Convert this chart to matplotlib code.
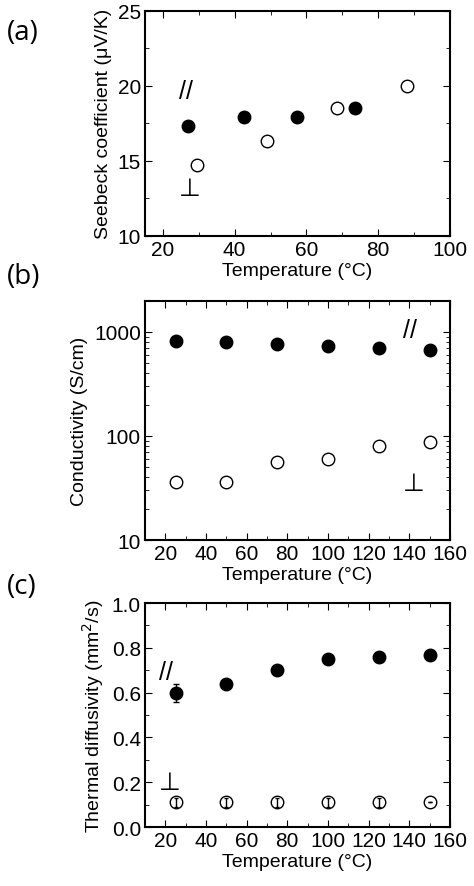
import matplotlib
matplotlib.use("Agg")
import matplotlib.pyplot as plt
import numpy as np
from matplotlib.ticker import MultipleLocator, LogLocator, NullFormatter

plt.rcParams['font.family'] = ['Liberation Sans', 'DejaVu Sans']
plt.rcParams['font.size'] = 14

a_Tf = [27, 42.5, 57.5, 73.5]; a_Sf = [17.3, 17.9, 17.9, 18.5]
a_To = [29.5, 49, 68.5, 88]; a_So = [14.7, 16.3, 18.5, 20.0]
T = [25, 50, 75, 100, 125, 150]
b_par = [820, 800, 760, 730, 700, 670]
b_perp = [36, 36, 56, 60, 80, 87]
c_par = [0.60, 0.64, 0.70, 0.75, 0.76, 0.77]
c_par_err = [0.04, 0, 0, 0, 0, 0]
c_perp = [0.11, 0.11, 0.11, 0.11, 0.11, 0.11]
c_perp_err = [0.02, 0.02, 0.02, 0.02, 0.02, 0]

fig = plt.figure(figsize=(4.74, 8.87), dpi=100)
axa = fig.add_axes([0.306, 0.733, 0.643, 0.254])
axb = fig.add_axes([0.306, 0.390, 0.643, 0.270])
axc = fig.add_axes([0.306, 0.0665, 0.643, 0.2525])

ms = 9
def style(ax):
    ax.tick_params(which='both', direction='in', top=True, right=True, labelsize=15, pad=3)
    ax.tick_params(which='major', length=5)
    ax.tick_params(which='minor', length=3)
    for s in ax.spines.values():
        s.set_linewidth(1.5)
    ax.set_xlabel('Temperature (°C)', fontsize=14, labelpad=2)

# (a)
axa.plot(a_Tf, a_Sf, 'o', color='black', ms=ms, ls='none')
axa.plot(a_To, a_So, 'o', mfc='white', mec='black', ms=ms, ls='none')
axa.set_xlim(15, 100); axa.set_ylim(10, 25)
axa.xaxis.set_major_locator(MultipleLocator(20)); axa.xaxis.set_minor_locator(MultipleLocator(10))
axa.yaxis.set_major_locator(MultipleLocator(5)); axa.yaxis.set_minor_locator(MultipleLocator(2.5))
axa.set_ylabel('Seebeck coefficient (μV/K)', fontsize=14)
style(axa)
axa.text(24.5, 19.2, '//', fontsize=18)
axa.text(24.5, 12.7, '⊥', fontsize=18)

# (b)
axb.semilogy(T, b_par, 'o', color='black', ms=ms, ls='none')
axb.semilogy(T, b_perp, 'o', mfc='white', mec='black', ms=ms, ls='none')
axb.set_xlim(10, 160); axb.set_ylim(10, 2000)
axb.xaxis.set_major_locator(MultipleLocator(20)); axb.xaxis.set_minor_locator(MultipleLocator(10))
axb.yaxis.set_minor_locator(LogLocator(subs=np.arange(2, 10)))
axb.yaxis.set_minor_formatter(NullFormatter())
axb.set_yticks([10, 100, 1000]); axb.set_yticklabels(['10', '100', '1000'])
axb.set_ylabel('Conductivity (S/cm)', fontsize=14)
style(axb)
axb.text(137, 900, '//', fontsize=18)
axb.text(137, 30, '⊥', fontsize=18)

# (c)
axc.errorbar(T, c_par, yerr=c_par_err, fmt='o', color='black', ms=ms, capsize=2, elinewidth=1)
axc.errorbar(T, c_perp, yerr=c_perp_err, fmt='o', mfc='none', mec='black', ecolor='black', ms=ms, capsize=1.5, elinewidth=1)
axc.set_xlim(10, 160); axc.set_ylim(0, 1.0)
axc.xaxis.set_major_locator(MultipleLocator(20)); axc.xaxis.set_minor_locator(MultipleLocator(10))
axc.yaxis.set_major_locator(MultipleLocator(0.2)); axc.yaxis.set_minor_locator(MultipleLocator(0.1))
axc.yaxis.set_major_formatter(matplotlib.ticker.FormatStrFormatter('%.1f'))
axc.set_ylabel('Thermal diffusivity (mm$^2$/s)', fontsize=14)
style(axc)
axc.text(17, 0.66, '//', fontsize=18)
axc.text(17, 0.17, '⊥', fontsize=18)

for lab, y in [('(a)', 0.955), ('(b)', 0.68), ('(c)', 0.33)]:
    fig.text(0.015, y, lab, fontsize=20, family=['Open Sans', 'DejaVu Sans'])

fig.savefig('out.png', dpi=100)
